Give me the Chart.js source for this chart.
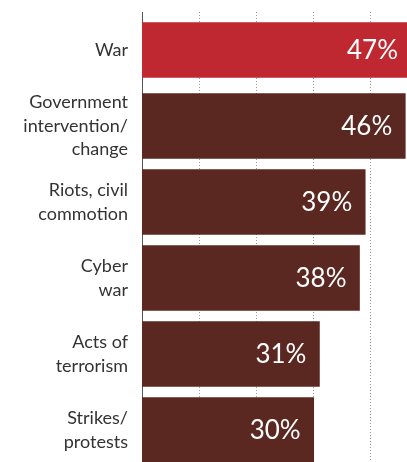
<!DOCTYPE html>
<html>
<head>
<meta charset="utf-8">
<script src="https://cdn.jsdelivr.net/npm/chart.js@4"></script>
<style>
    html, body { margin: 0; padding: 0; background: #fff; overflow: hidden; }
    #wrap { position: relative; width: 407px; height: 470px; }
</style>
</head>
<body>
<div id="wrap"><canvas id="risk"></canvas></div>
<script>
// kategori dan nilai (persen)
const categories = [
    'War',
    ['Government', 'intervention/', 'change'],
    ['Riots, civil', 'commotion'],
    ['Cyber', 'war'],
    ['Acts of', 'terrorism'],
    ['Strikes/', 'protests']
];
const values = [47, 46, 39, 38, 31, 30];
const gridTicks = [10, 20, 30, 40];

const RED = '#bf2830';
const BROWN = '#5b2721';

// Plugin sederhana untuk menulis nilai di ujung kanan batang
const valueLabels = {
    id: 'valueLabels',
    afterDatasetsDraw(chart) {
        const ctx = chart.ctx;
        ctx.save();
        ctx.fillStyle = '#ffffff';
        ctx.font = '26px Lato';
        ctx.textAlign = 'right';
        ctx.textBaseline = 'middle';
        chart.data.datasets.forEach((ds, di) => {
            const meta = chart.getDatasetMeta(di);
            meta.data.forEach((bar, i) => {
                if (ds.data[i] == null) return;
                ctx.fillText(ds.data[i] + '%', bar.x - 13, bar.y + 1);
            });
        });
        ctx.restore();
    }
};

const ctx = document.getElementById('risk').getContext('2d');
new Chart(ctx, {
    type: 'bar',
    data: {
        labels: categories,
        datasets: [{
            data: values.map((v, i) => i === 0 ? v : null),
            backgroundColor: RED,
            barThickness: 55
        }, {
            data: values.map((v, i) => i === 0 ? null : v),
            backgroundColor: BROWN,
            barThickness: 65
        }]
    },
    options: {
        indexAxis: 'y',
        responsive: true,
        maintainAspectRatio: false,
        animation: false,
        layout: { padding: { top: 12, bottom: 2, left: 0, right: 0 } },
        plugins: {
            legend: { display: false },
            tooltip: { enabled: false }
        },
        scales: {
            x: {
                min: 0,
                max: 46.3,
                afterBuildTicks(scale) {
                    scale.ticks = gridTicks.map(v => ({ value: v }));
                },
                afterFit(scale) {
                    scale.height = 0;
                    scale.paddingLeft = 0;
                    scale.paddingRight = 0;
                },
                ticks: { display: false },
                grid: { color: '#9a9a9a', lineWidth: 1, drawTicks: false },
                border: { display: false, dash: [1, 2] }
            },
            y: {
                stacked: true,
                afterFit(scale) {
                    scale.width = 142;
                    scale.paddingTop = 0;
                    scale.paddingBottom = 0;
                },
                grid: { display: false, drawTicks: false },
                border: { display: true, color: '#555555', width: 1 },
                ticks: {
                    padding: 14,
                    color: '#333333',
                    font: { family: 'Lato', size: 18, lineHeight: 1.3 }
                }
            }
        }
    },
    plugins: [valueLabels]
});
</script>
</body>
</html>
